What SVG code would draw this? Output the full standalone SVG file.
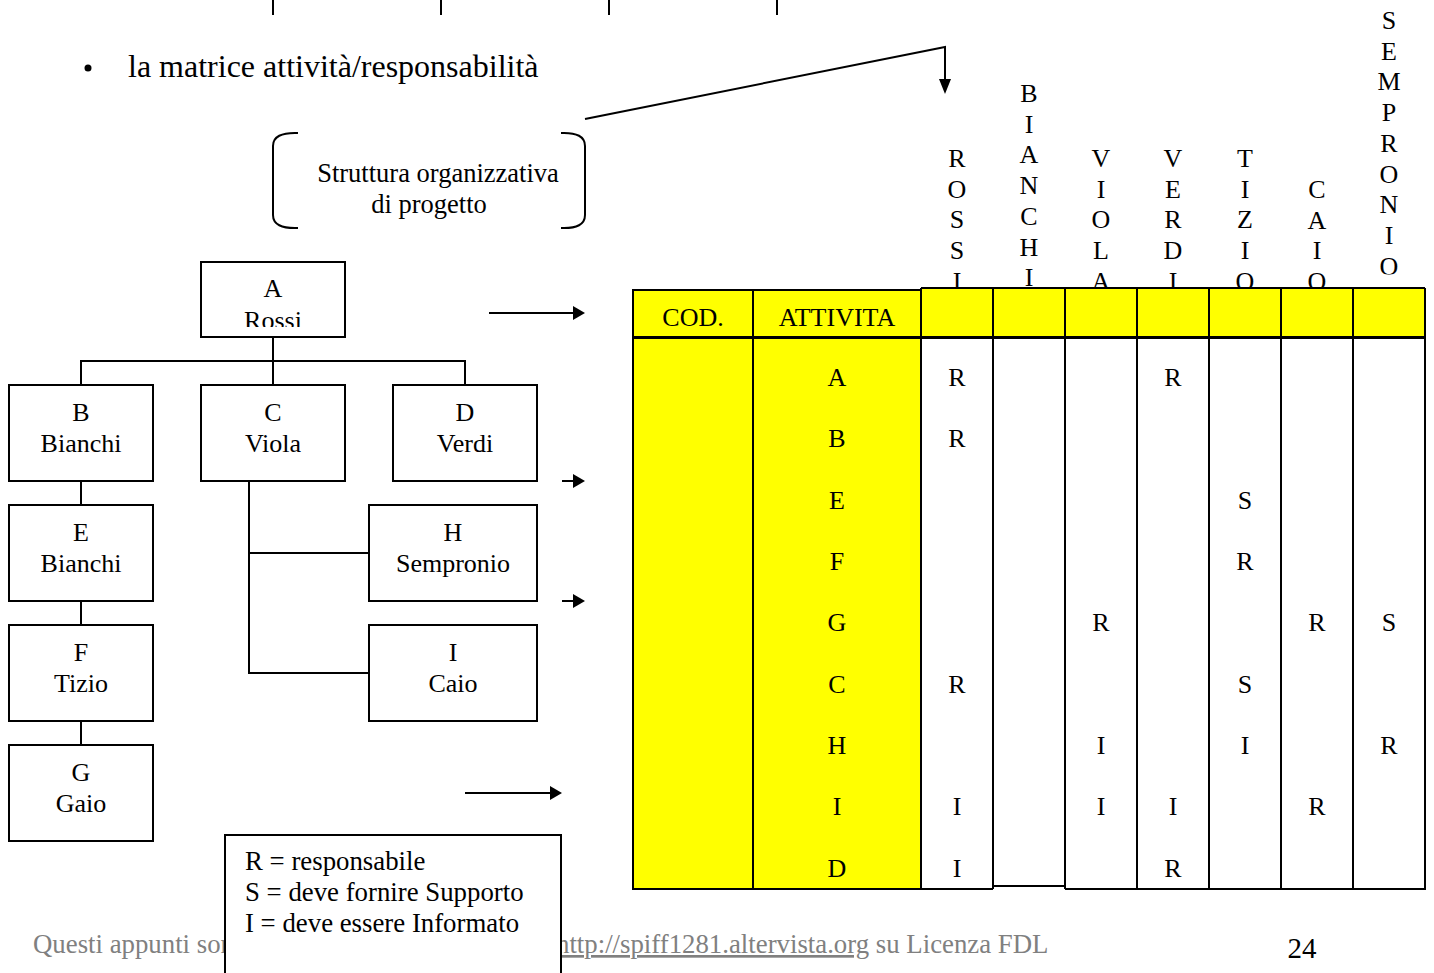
<svg xmlns="http://www.w3.org/2000/svg" width="1434" height="973" viewBox="0 0 1434 973">
  <style>
    text { font-family: "Liberation Serif", "Times New Roman", serif; fill: #000; }
    .t26 { font-size: 26px; }
    .t27 { font-size: 26.8px; }
    .mid { text-anchor: middle; }
    .box { fill: #fff; stroke: #000; stroke-width: 2; }
    .wire { fill: none; stroke: #000; stroke-width: 2; }
    .yel { fill: #ffff00; }
    .grid { stroke: #000; stroke-width: 2; fill: none; }
    .foot { font-size: 26.8px; fill: #808080; }
    .vert { font-size: 26px; text-anchor: middle; }
  </style>
  <defs>
    <clipPath id="clipA"><rect x="201" y="262" width="144" height="65"/></clipPath>
    <clipPath id="clipSemp"><rect x="1353" y="0" width="72" height="274.5"/></clipPath>
    <polygon id="headR" points="0,0 -12,-7 -12,7"/>
  </defs>

  <!-- stubs of the chart above -->
  <g id="top-ticks" class="wire">
    <line x1="273" y1="0" x2="273" y2="15"/>
    <line x1="441" y1="0" x2="441" y2="15"/>
    <line x1="609" y1="0" x2="609" y2="15"/>
    <line x1="777" y1="0" x2="777" y2="15"/>
  </g>

  <!-- bullet -->
  <g id="bullet">
    <circle cx="88" cy="68" r="3.5" fill="#000"/>
    <text x="128" y="77" font-size="32">la matrice attività/responsabilità</text>
  </g>

  <!-- bracketed caption -->
  <g id="caption">
    <path class="wire" d="M298,133 Q273,132 273,146 L273,215 Q273,229 298,228"/>
    <path class="wire" d="M561,133 Q585,132 585,146 L585,215 Q585,229 561,228"/>
    <text class="mid" x="438" y="182" font-size="26.5">Struttura organizzativa</text>
    <text class="mid" x="429" y="213" font-size="26.5">di progetto</text>
  </g>

  <!-- connectors -->
  <g id="connectors">
    <g class="wire">
      <polyline points="273,337 273,361"/>
      <polyline points="81,385 81,361 465,361 465,385"/>
      <polyline points="273,361 273,385"/>
      <polyline points="81,481 81,505"/>
      <polyline points="81,601 81,625"/>
      <polyline points="81,721 81,745"/>
      <polyline points="249,481 249,673 369,673"/>
      <polyline points="249,553 369,553"/>
      <polyline points="585,119 945,47 945,82"/>
      <line x1="489" y1="313" x2="575" y2="313"/>
      <line x1="562" y1="481" x2="575" y2="481"/>
      <line x1="562" y1="601" x2="575" y2="601"/>
      <line x1="465" y1="793" x2="552" y2="793"/>
    </g>
    <polygon points="939,79 951,79 945,94"/>
    <use href="#headR" x="585" y="313"/>
    <use href="#headR" x="585" y="481"/>
    <use href="#headR" x="585" y="601"/>
    <use href="#headR" x="562" y="793"/>
  </g>

  <!-- organisation chart -->
  <g id="node-a">
    <rect class="box" x="201" y="262" width="144" height="75"/>
    <g clip-path="url(#clipA)">
      <text class="t26 mid" x="273" y="297">A</text>
      <text class="t26 mid" x="273" y="329">Rossi</text>
    </g>
  </g>
  <g id="node-b">
    <rect class="box" x="9" y="385" width="144" height="96"/>
    <text class="t26 mid" x="81" y="421">B</text>
    <text class="t26 mid" x="81" y="452">Bianchi</text>
  </g>
  <g id="node-c">
    <rect class="box" x="201" y="385" width="144" height="96"/>
    <text class="t26 mid" x="273" y="421">C</text>
    <text class="t26 mid" x="273" y="452">Viola</text>
  </g>
  <g id="node-d">
    <rect class="box" x="393" y="385" width="144" height="96"/>
    <text class="t26 mid" x="465" y="421">D</text>
    <text class="t26 mid" x="465" y="452">Verdi</text>
  </g>
  <g id="node-e">
    <rect class="box" x="9" y="505" width="144" height="96"/>
    <text class="t26 mid" x="81" y="541">E</text>
    <text class="t26 mid" x="81" y="572">Bianchi</text>
  </g>
  <g id="node-f">
    <rect class="box" x="9" y="625" width="144" height="96"/>
    <text class="t26 mid" x="81" y="661">F</text>
    <text class="t26 mid" x="81" y="692">Tizio</text>
  </g>
  <g id="node-g">
    <rect class="box" x="9" y="745" width="144" height="96"/>
    <text class="t26 mid" x="81" y="781">G</text>
    <text class="t26 mid" x="81" y="812">Gaio</text>
  </g>
  <g id="node-h">
    <rect class="box" x="369" y="505" width="168" height="96"/>
    <text class="t26 mid" x="453" y="541">H</text>
    <text class="t26 mid" x="453" y="572">Sempronio</text>
  </g>
  <g id="node-i">
    <rect class="box" x="369" y="625" width="168" height="96"/>
    <text class="t26 mid" x="453" y="661">I</text>
    <text class="t26 mid" x="453" y="692">Caio</text>
  </g>

  <!-- vertical column headings (drawn beneath the table) -->
  <g id="headings">
    <text class="vert"><tspan x="957" y="167">R</tspan><tspan x="957" dy="30.7">O</tspan><tspan x="957" dy="30.7">S</tspan><tspan x="957" dy="30.7">S</tspan><tspan x="957" dy="30.7">I</tspan></text>
    <text class="vert"><tspan x="1029" y="102">B</tspan><tspan x="1029" dy="30.7">I</tspan><tspan x="1029" dy="30.7">A</tspan><tspan x="1029" dy="30.7">N</tspan><tspan x="1029" dy="30.7">C</tspan><tspan x="1029" dy="30.7">H</tspan><tspan x="1029" dy="30.7">I</tspan></text>
    <text class="vert"><tspan x="1101" y="167">V</tspan><tspan x="1101" dy="30.7">I</tspan><tspan x="1101" dy="30.7">O</tspan><tspan x="1101" dy="30.7">L</tspan><tspan x="1101" dy="30.7">A</tspan></text>
    <text class="vert"><tspan x="1173" y="167">V</tspan><tspan x="1173" dy="30.7">E</tspan><tspan x="1173" dy="30.7">R</tspan><tspan x="1173" dy="30.7">D</tspan><tspan x="1173" dy="30.7">I</tspan></text>
    <text class="vert"><tspan x="1245" y="167">T</tspan><tspan x="1245" dy="30.7">I</tspan><tspan x="1245" dy="30.7">Z</tspan><tspan x="1245" dy="30.7">I</tspan><tspan x="1245" dy="30.7">O</tspan></text>
    <text class="vert"><tspan x="1317" y="198">C</tspan><tspan x="1317" dy="30.7">A</tspan><tspan x="1317" dy="30.7">I</tspan><tspan x="1317" dy="30.7">O</tspan></text>
    <g clip-path="url(#clipSemp)">
      <text class="vert"><tspan x="1389" y="29">S</tspan><tspan x="1389" dy="30.7">E</tspan><tspan x="1389" dy="30.7">M</tspan><tspan x="1389" dy="30.7">P</tspan><tspan x="1389" dy="30.7">R</tspan><tspan x="1389" dy="30.7">O</tspan><tspan x="1389" dy="30.7">N</tspan><tspan x="1389" dy="30.7">I</tspan><tspan x="1389" dy="30.7">O</tspan></text>
    </g>
  </g>

  <!-- activity / responsibility matrix -->
  <g id="matrix">
    <rect class="yel" x="633" y="290" width="288" height="599"/>
    <rect class="yel" x="921" y="288" width="504" height="49"/>
    <rect x="921" y="337" width="504" height="552" fill="#fff"/>
    <g class="grid">
      <polyline points="633,889 633,290 921,290"/>
      <line x1="921" y1="288" x2="1425" y2="288"/>
      <line x1="633" y1="337.5" x2="1425" y2="337.5" stroke-width="3"/>
      <line x1="753" y1="290" x2="753" y2="889"/>
      <line x1="921" y1="288" x2="921" y2="889"/>
      <line x1="993" y1="288" x2="993" y2="889"/>
      <line x1="1065" y1="288" x2="1065" y2="889"/>
      <line x1="1137" y1="288" x2="1137" y2="889"/>
      <line x1="1209" y1="288" x2="1209" y2="889"/>
      <line x1="1281" y1="288" x2="1281" y2="889"/>
      <line x1="1353" y1="288" x2="1353" y2="889"/>
      <line x1="1425" y1="288" x2="1425" y2="889"/>
      <line x1="632" y1="889" x2="993" y2="889"/>
      <line x1="993" y1="886" x2="1065" y2="886"/>
      <line x1="1065" y1="889" x2="1426" y2="889"/>
    </g>
    <text class="t26 mid" x="693" y="326">COD.</text>
    <text class="t26 mid" x="837" y="326">ATTIVITA</text>
    <g id="codes">
      <text class="t26 mid" x="837" y="386">A</text>
      <text class="t26 mid" x="837" y="447">B</text>
      <text class="t26 mid" x="837" y="509">E</text>
      <text class="t26 mid" x="837" y="570">F</text>
      <text class="t26 mid" x="837" y="631">G</text>
      <text class="t26 mid" x="837" y="693">C</text>
      <text class="t26 mid" x="837" y="754">H</text>
      <text class="t26 mid" x="837" y="815">I</text>
      <text class="t26 mid" x="837" y="877">D</text>
    </g>
    <g id="cells">
      <text class="t26 mid" x="957" y="386">R</text>
      <text class="t26 mid" x="1173" y="386">R</text>
      <text class="t26 mid" x="957" y="447">R</text>
      <text class="t26 mid" x="1245" y="509">S</text>
      <text class="t26 mid" x="1245" y="570">R</text>
      <text class="t26 mid" x="1101" y="631">R</text>
      <text class="t26 mid" x="1317" y="631">R</text>
      <text class="t26 mid" x="1389" y="631">S</text>
      <text class="t26 mid" x="957" y="693">R</text>
      <text class="t26 mid" x="1245" y="693">S</text>
      <text class="t26 mid" x="1101" y="754">I</text>
      <text class="t26 mid" x="1245" y="754">I</text>
      <text class="t26 mid" x="1389" y="754">R</text>
      <text class="t26 mid" x="957" y="815">I</text>
      <text class="t26 mid" x="1101" y="815">I</text>
      <text class="t26 mid" x="1173" y="815">I</text>
      <text class="t26 mid" x="1317" y="815">R</text>
      <text class="t26 mid" x="957" y="877">I</text>
      <text class="t26 mid" x="1173" y="877">R</text>
    </g>
  </g>

  <!-- page footer -->
  <g id="footer">
    <text class="foot" x="33" y="953">Questi appunti sono</text>
    <text class="foot" x="556" y="953"><tspan text-decoration="underline">http://spiff1281.altervista.org</tspan> su Licenza FDL</text>
    <text x="1302" y="958" font-size="29" text-anchor="middle">24</text>
  </g>

  <!-- legend -->
  <g id="legend">
    <rect class="box" x="225" y="835" width="336" height="150"/>
    <text class="t27" x="245" y="870">R = responsabile</text>
    <text class="t27" x="245" y="901">S = deve fornire Supporto</text>
    <text class="t27" x="245" y="932">I = deve essere Informato</text>
  </g>
</svg>
